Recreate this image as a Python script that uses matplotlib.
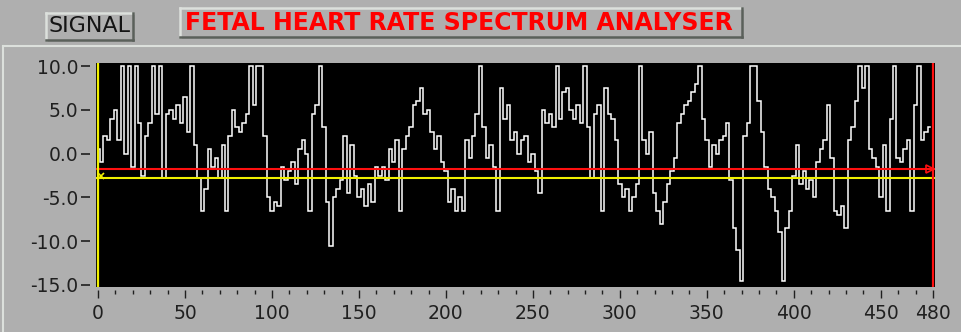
import numpy as np
import matplotlib
matplotlib.use("Agg")
import matplotlib.pyplot as plt
from matplotlib.patches import Rectangle
from matplotlib.lines import Line2D

# ---- data (one value every 2 samples) ----
sample_step = 2
signal = [
    # 0 - 98
    0.5, -1.0, 2.0, 1.5, 4.0, 5.0, 1.5, 10, 0.0, 10,
    -1.5, 10, 3.5, -2.5, 2.0, 3.5, 10, 4.5, 10, -2.8,
    4.5, 5.0, 4.0, 5.5, 3.5, 6.5, 2.5, 10, 1.0, -2.8,
    -6.5, -4.0, 0.5, -1.5, -0.5, -2.8, 1.0, -6.5, 2.0, 5.0,
    3.0, 2.5, 3.5, 4.5, 10, 5.5, 10, 10, 2.0, -5.0,
    # 100 - 198
    -6.5, -5.5, -6.0, -1.5, -3.0, -2.0, -1.0, -3.5, 0.5, 1.5,
    0.0, -6.5, 4.5, 5.5, 10, 3.0, -5.5, -10.5, -5.0, -4.0,
    -3.0, 2.0, -4.5, 1.0, -2.5, -5.0, -4.0, -6.0, -3.5, -5.5,
    -1.5, -2.5, -1.5, -3.0, 0.5, -1.0, 1.5, -6.5, 0.5, 2.0,
    3.0, 5.5, 6.0, 7.5, 4.5, 5.0, 2.5, 0.5, 2.0, -1.0,
    # 200 - 298
    -2.0, -5.5, -4.0, -6.5, -5.0, -6.5, 1.5, -0.5, 2.0, 4.5,
    10, 3.0, -0.5, 1.0, -1.5, -6.5, 7.5, 4.0, 5.5, 1.5,
    2.5, 0.0, 1.5, 2.0, -1.0, 0.0, -2.0, -4.5, 5.0, 3.5,
    4.5, 3.0, 10, 4.0, 7.0, 7.5, 5.0, 4.0, 5.5, 3.5,
    10, 3.0, -2.8, 4.5, 5.5, -6.5, 7.5, 4.5, 4.0, 1.5,
    # 300 - 398
    -3.5, -5.0, -4.0, -6.5, -5.0, -3.5, 10, 1.5, 0.0, 2.5,
    -4.5, -6.5, -8.0, -5.5, -3.5, -2.0, -0.5, 3.5, 4.5, 5.5,
    6.0, 7.0, 8.0, 10, 4.0, 1.5, -1.5, 1.0, 0.0, 1.5,
    2.0, 3.5, -3.0, -8.5, -11.0, -14.5, 2.0, 3.5, 10, 10,
    6.0, 2.5, -1.5, -4.0, -5.0, -6.5, -9.0, -14.5, -8.5, -6.5,
    # 400 - 478
    -2.5, 1.0, -3.5, -2.0, -4.0, -3.0, -5.0, -1.0, 0.5, 1.5,
    5.5, -0.5, -6.5, -7.0, -6.0, -8.5, 1.5, 3.0, 6.0, 10,
    7.5, 10, 0.5, -0.5, -1.5, -5.0, 1.0, -6.5, 4.0, 10,
    -0.5, -1.0, 0.5, 1.5, -6.5, 5.5, 10, 1.5, 2.5, 3.0,
]
cursor_red_y = -1.72
cursor_yellow_y = -2.82
cursor_left_x = 0
cursor_right_x = 480
x_major = [0, 50, 100, 150, 200, 250, 300, 350, 400, 450, 480]
y_major = [10.0, 5.0, 0.0, -5.0, -10.0, -15.0]
title_text = "FETAL HEART RATE SPECTRUM ANALYSER"
button_text = "SIGNAL"

samples = np.arange(len(signal)) * sample_step

# ---- figure ----
W, H = 961, 332
BG = "#AFAFAF"
LIGHT = "#DCE0DC"
DARK = "#5A605A"
fig = plt.figure(figsize=(W / 100, H / 100), dpi=100, facecolor=BG)

def fx(px):
    return px / W

def fy(py):
    return 1 - py / H

# panel edges
fig.add_artist(Line2D([fx(3), fx(961)], [fy(46), fy(46)], color=LIGHT, lw=1.5))
fig.add_artist(Line2D([fx(3), fx(3)], [fy(46), fy(332)], color=LIGHT, lw=1.5))

def raised_box(x0, y0, x1, y1):
    fig.add_artist(Rectangle((fx(x0), fy(y1)), fx(x1 - x0), (y1 - y0) / H,
                             facecolor=BG, edgecolor="none"))
    fig.add_artist(Line2D([fx(x0), fx(x1)], [fy(y0), fy(y0)], color=LIGHT, lw=1.8))
    fig.add_artist(Line2D([fx(x0), fx(x0)], [fy(y0), fy(y1)], color=LIGHT, lw=1.8))
    fig.add_artist(Line2D([fx(x0), fx(x1)], [fy(y1), fy(y1)], color=DARK, lw=1.8))
    fig.add_artist(Line2D([fx(x1), fx(x1)], [fy(y0), fy(y1)], color=DARK, lw=1.8))

raised_box(46, 13, 133, 40)
fig.text(fx(89.5), fy(26.5), button_text, ha="center", va="center",
         fontsize=16, color="#151515", family="DejaVu Sans")

raised_box(180, 8, 742, 37)
fig.text(fx(459), fy(23), title_text, ha="center", va="center",
         fontsize=17, color="#FF0000", fontweight="bold", family="DejaVu Sans")

# ---- axes ----
left, right, top, bottom = 96, 935, 63, 287
ax = fig.add_axes([fx(left), fy(bottom), fx(right - left), (bottom - top) / H])
ax.set_facecolor("black")
ppx = (933 - 98) / 480.0
ppy = (285 - 66) / 25.0
ax.set_xlim((left - 98) / ppx, (right - 98) / ppx)
ax.set_ylim(-15 - (bottom - 285) / ppy, 10 + (66 - top) / ppy)

ax.plot(samples, signal, color="white", lw=1.1, drawstyle="steps-mid",
        solid_joinstyle="miter", zorder=2)

ax.axhline(cursor_yellow_y, color="#F0F000", lw=1.5, zorder=3)
ax.axhline(cursor_red_y, color="#FF1010", lw=1.5, zorder=3)
ax.axvline(cursor_left_x, color="#F0F000", lw=1.6, zorder=4)
ax.axvline(cursor_right_x, color="#FF1010", lw=1.6, zorder=4)
ax.plot([cursor_right_x - 1.5], [cursor_red_y], marker=">", ms=6, mfc="none",
        mec="#FF1010", mew=1.2, zorder=5, clip_on=False)
ax.plot([cursor_left_x + 1.5], [cursor_yellow_y + 0.3], marker="x", ms=4,
        mec="#F0F000", mew=1.2, zorder=5, clip_on=False)

for s in ax.spines.values():
    s.set_visible(False)
ax.spines["left"].set_position(("outward", 4))
ax.spines["bottom"].set_position(("outward", 2))

ax.set_xticks(x_major)
ax.set_xticklabels([str(v) for v in x_major])
ax.set_xticks([v for v in range(10, 480, 10) if v not in x_major], minor=True)
ax.set_yticks(y_major)
ax.set_yticklabels([f"{v:.1f}" for v in y_major])

ax.tick_params(axis="x", which="major", direction="out", length=5.5, width=1.0,
               color="#202020", labelsize=13.5, labelcolor="#202020", pad=5)
ax.tick_params(axis="x", which="minor", direction="out", length=3, width=1.0,
               color="#202020")
ax.tick_params(axis="y", which="major", direction="out", length=6.5, width=1.2,
               color="#202020", labelsize=13.5, labelcolor="#202020", pad=2)

fig.savefig("out.png", dpi=100, facecolor=BG)
